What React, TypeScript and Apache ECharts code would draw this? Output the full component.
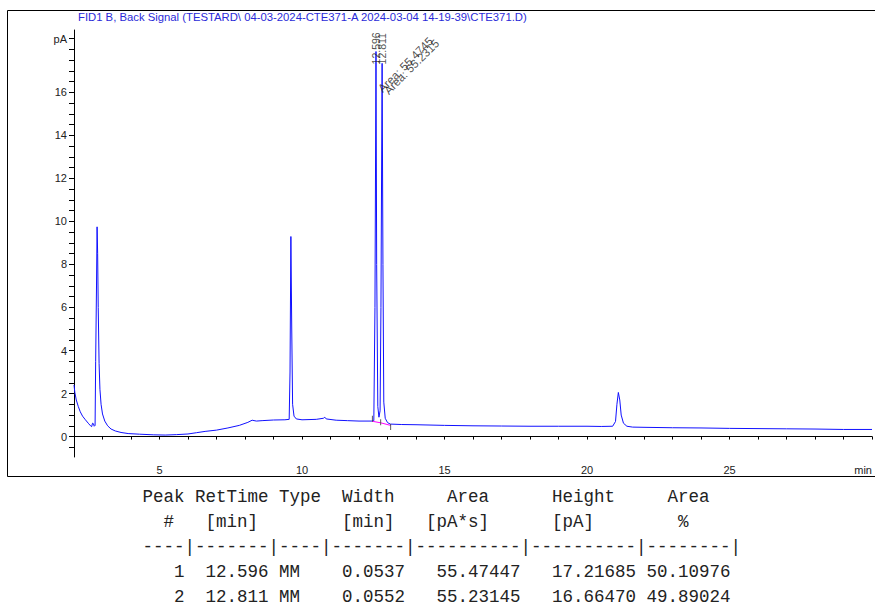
import React, { useEffect, useRef } from "react";
import * as echarts from "echarts";

const TITLE =
  "FID1 B, Back Signal (TESTARD\\ 04-03-2024-CTE371-A 2024-03-04 14-19-39\\CTE371.D)";

// chromatogram points: [time (min), signal (pA)]
const SIGNAL: [number, number][] = [
  [2.0, 2.4], [2.03, 2.05], [2.08, 1.7], [2.15, 1.4], [2.22, 1.15], [2.3, 0.95],
  [2.4, 0.78], [2.5, 0.62], [2.58, 0.5], [2.62, 0.46], [2.65, 0.62], [2.68, 0.6],
  [2.71, 0.48], [2.74, 0.52], [2.76, 3.5], [2.79, 7.0], [2.81, 9.75], [2.83, 8.5],
  [2.85, 6.0], [2.88, 3.4], [2.91, 2.2], [2.95, 1.5], [3.0, 1.05], [3.08, 0.72],
  [3.18, 0.5], [3.3, 0.35], [3.45, 0.26], [3.65, 0.19], [3.9, 0.14], [4.3, 0.11],
  [4.8, 0.08], [5.2, 0.07], [5.6, 0.09], [6.0, 0.12], [6.3, 0.18], [6.6, 0.24],
  [7.0, 0.3], [7.4, 0.4], [7.8, 0.52], [8.1, 0.66], [8.25, 0.76], [8.4, 0.72],
  [8.6, 0.74], [9.0, 0.77], [9.4, 0.78], [9.55, 0.8], [9.58, 3.0], [9.61, 9.3],
  [9.64, 5.0], [9.67, 1.5], [9.72, 0.95], [9.8, 0.82], [10.0, 0.78], [10.5, 0.8],
  [10.75, 0.85], [10.8, 0.9], [10.85, 0.82], [11.2, 0.76], [11.6, 0.74], [12.0, 0.72],
  [12.45, 0.72], [12.52, 0.74], [12.56, 6.0], [12.596, 17.9], [12.62, 8.0], [12.66, 1.4],
  [12.7, 0.9], [12.74, 1.2], [12.77, 6.0], [12.811, 17.35], [12.84, 8.0], [12.87, 1.6],
  [12.92, 0.85], [13.0, 0.65], [13.1, 0.58], [13.5, 0.56], [14.0, 0.55], [15.0, 0.52],
  [16.0, 0.5], [17.0, 0.49], [18.0, 0.48], [19.0, 0.48], [20.0, 0.48], [20.5, 0.47],
  [20.9, 0.48], [21.0, 0.7], [21.05, 1.5], [21.1, 2.05], [21.15, 1.7], [21.2, 1.0],
  [21.28, 0.62], [21.4, 0.48], [21.6, 0.44], [22.0, 0.43], [23.0, 0.41], [24.0, 0.4],
  [25.0, 0.38], [26.0, 0.37], [27.0, 0.36], [28.0, 0.35], [29.0, 0.33], [30.0, 0.33],
];

// integration baseline and peak start/end marks
const BASELINE: [number, number][] = [[12.47, 0.71], [12.76, 0.64], [13.11, 0.52]];
const PEAK_MARKS: [number, number][] = [[12.47, 0.83], [12.76, 0.66], [13.11, 0.44]];

// peak annotations
const RT_LABEL_POS: [number, number][] = [[12.596, 17.3], [12.811, 17.3]];
const AREA_LABEL_POS: [number, number][] = [[12.596, 16.1], [12.811, 16.0]];
const AREA_LABELS = ["Area: 55.4745", "Area: 55.2315"];

// axes
const X_LABEL_VALUES = [5, 10, 15, 20, 25, 30];
const Y_LABEL_VALUES = [0, 2, 4, 6, 8, 10, 12, 14, 16, 18.5];

// table
const PEAK_NO = [1, 2];
const RET_TIME = [12.596, 12.811];
const PEAK_TYPE = ["MM", "MM"];
const PEAK_WIDTH = [0.0537, 0.0552];
const PEAK_AREA = [55.47447, 55.23145];
const PEAK_HEIGHT = [17.21685, 16.6647];
const AREA_PCT = [50.10976, 49.89024];

const HEADER_1 = "Peak RetTime Type  Width     Area      Height     Area";
const HEADER_2 = "  #   [min]        [min]   [pA*s]      [pA]        %";
const HEADER_3 = "----|-------|----|-------|----------|----------|--------|";

function buildRows(): string[] {
  return PEAK_NO.map((n, i) =>
    String(n).padStart(4) +
    RET_TIME[i].toFixed(3).padStart(8) +
    " " +
    PEAK_TYPE[i].padEnd(4) +
    PEAK_WIDTH[i].toFixed(4).padStart(8) +
    PEAK_AREA[i].toFixed(5).padStart(11) +
    PEAK_HEIGHT[i].toFixed(5).padStart(11) +
    AREA_PCT[i].toFixed(5).padStart(9)
  );
}

const nb = (s: string) => s.replace(/ /g, "\u00A0");

export default function App() {
  const ref = useRef<HTMLDivElement>(null);

  useEffect(() => {
    if (!ref.current) return;
    const chart = echarts.init(ref.current, undefined, { renderer: "svg" });

    const xTicks: number[] = [];
    for (let v = 2; v <= 30; v += 1) xTicks.push(v);
    const yTicks: number[] = [];
    for (let k = -1; k <= 37; k += 1) yTicks.push(k / 2);

    const tableLines = [HEADER_1, HEADER_2, HEADER_3, ...buildRows()];
    const tableY = [497, 522, 547, 572, 597];

    const axisFont = {
      fontFamily: "Liberation Sans, Arial, sans-serif",
      fontSize: 11,
      color: "#222",
    };

    chart.setOption({
      animation: false,
      backgroundColor: "#fff",
      grid: { left: 74, right: 0, top: 30, bottom: 153, containLabel: false },
      xAxis: {
        type: "value",
        min: 2,
        max: 30,
        axisLine: { show: true, lineStyle: { color: "#000", width: 1 } },
        axisTick: {
          show: true,
          customValues: xTicks,
          length: 3,
          lineStyle: { color: "#000" },
        },
        axisLabel: {
          ...axisFont,
          customValues: X_LABEL_VALUES,
          margin: 7,
          alignMaxLabel: "right",
          formatter: (v: number) => (v === 30 ? "min" : String(v)),
        },
        splitLine: { show: false },
      },
      yAxis: {
        type: "value",
        min: -0.95,
        max: 18.9,
        axisLine: { show: true, onZero: false, lineStyle: { color: "#000", width: 1 } },
        axisTick: {
          show: true,
          customValues: yTicks,
          length: 5,
          lineStyle: { color: "#000" },
        },
        axisLabel: {
          ...axisFont,
          customValues: Y_LABEL_VALUES,
          margin: 7,
          formatter: (v: number) => (v === 18.5 ? "pA" : String(v)),
        },
        splitLine: { show: false },
      },
      series: [
        {
          type: "line",
          data: SIGNAL,
          showSymbol: false,
          symbol: "none",
          lineStyle: { color: "#1010ff", width: 1 },
          silent: true,
          z: 3,
        },
        {
          type: "line",
          data: BASELINE,
          showSymbol: false,
          symbol: "none",
          lineStyle: { color: "#ff00ff", width: 1 },
          silent: true,
          z: 4,
        },
        {
          type: "scatter",
          data: PEAK_MARKS,
          symbol: "rect",
          symbolSize: [1, 6],
          itemStyle: { color: "#333" },
          silent: true,
          z: 5,
        },
        {
          type: "scatter",
          data: RT_LABEL_POS,
          symbolSize: 0,
          silent: true,
          z: 6,
          label: {
            show: true,
            position: [0, 0],
            rotate: 90,
            align: "left",
            verticalAlign: "middle",
            fontFamily: "Liberation Sans, Arial, sans-serif",
            fontSize: 10.5,
            color: "#222",
            formatter: (p: any) => p.value[0].toFixed(3),
          },
        },
        {
          type: "scatter",
          data: AREA_LABEL_POS,
          symbolSize: 0,
          silent: true,
          z: 6,
          label: {
            show: true,
            position: [4, 0],
            rotate: 45,
            align: "left",
            verticalAlign: "middle",
            fontFamily: "Liberation Sans, Arial, sans-serif",
            fontSize: 11.5,
            color: "#222",
            formatter: (p: any) => AREA_LABELS[p.dataIndex],
          },
        },
      ],
      graphic: [
        {
          type: "polyline",
          shape: { points: [[876, 10.5], [7.5, 10.5], [7.5, 476.5], [876, 476.5]] },
          style: { stroke: "#000", lineWidth: 1, fill: null },
          silent: true,
        },
        {
          type: "text",
          x: 78,
          y: 16.5,
          style: {
            text: TITLE,
            fill: "#2a2ad8",
            font: "11.3px 'Liberation Sans', Arial, sans-serif",
            textVerticalAlign: "middle",
          },
          silent: true,
        },
        ...tableLines.map((line, i) => ({
          type: "text",
          x: 142.5,
          y: tableY[i],
          style: {
            text: nb(line),
            fill: "#222",
            font: "17.5px 'Liberation Mono', 'DejaVu Sans Mono', monospace",
            textVerticalAlign: "middle",
          },
          silent: true,
        })),
      ],
    });

    return () => chart.dispose();
  }, []);

  return (
    <div
      ref={ref}
      style={{ position: "absolute", left: 0, top: 0, width: 875, height: 610 }}
    />
  );
}
